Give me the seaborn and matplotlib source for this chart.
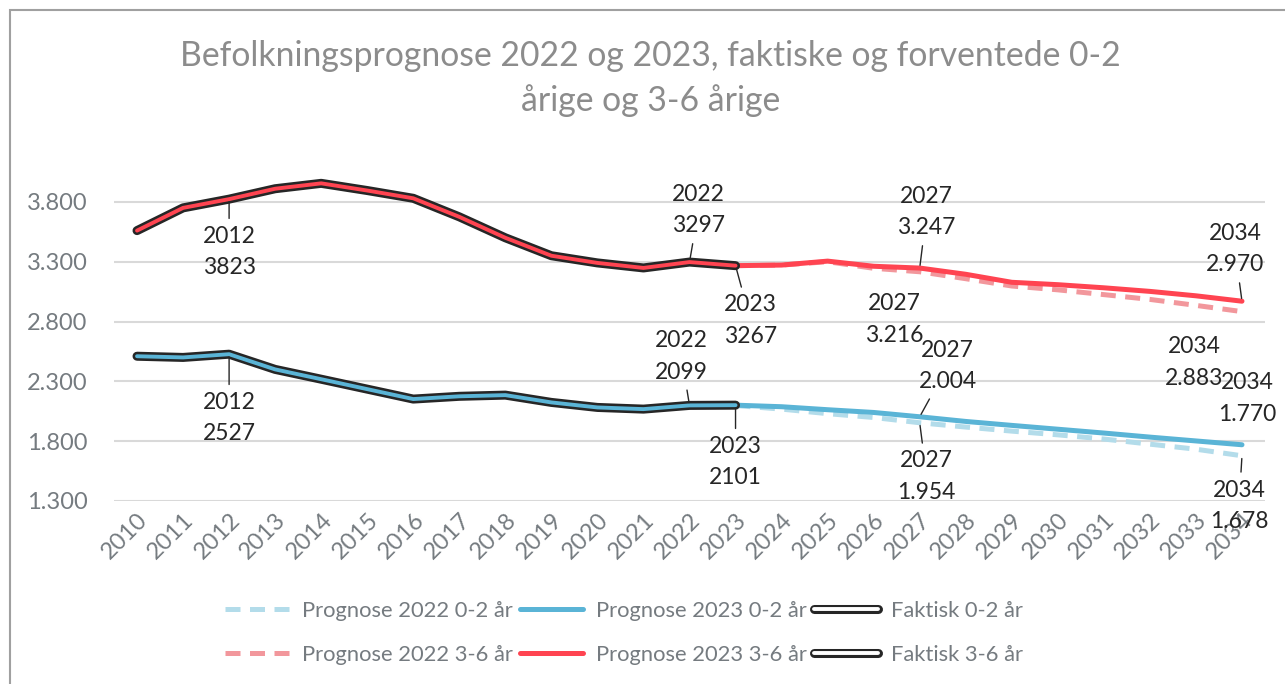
import matplotlib
matplotlib.use("Agg")
import matplotlib.pyplot as plt
import matplotlib.patheffects as pe
from matplotlib.lines import Line2D
from matplotlib.patches import Rectangle
import seaborn as sns

# Data
years_hist = list(range(2010, 2024))
faktisk_36 = [3560, 3750, 3823, 3910, 3955, 3895, 3830, 3675, 3500, 3350, 3290, 3248, 3297, 3267]
faktisk_02 = [2510, 2500, 2527, 2400, 2318, 2235, 2152, 2175, 2185, 2124, 2082, 2068, 2099, 2101]

years_prog = list(range(2023, 2035))
prog23_36 = [3267, 3272, 3305, 3262, 3247, 3195, 3128, 3108, 3082, 3052, 3015, 2970]
prog22_36 = [3267, 3272, 3300, 3245, 3216, 3158, 3097, 3065, 3025, 2985, 2935, 2883]
prog23_02 = [2101, 2088, 2063, 2040, 2004, 1965, 1932, 1900, 1868, 1834, 1802, 1770]
prog22_02 = [2098, 2068, 2030, 1998, 1954, 1918, 1884, 1853, 1818, 1775, 1733, 1678]

y_ticks = [1300, 1800, 2300, 2800, 3300, 3800]

# colours
red = "#ff4451"
red_light = "#f2979c"
blue = "#5ab4d6"
blue_light = "#b3dcea"
label_col = "#262626"
axis_col = "#757b80"

sns.set_theme(style="white")
plt.rcParams["font.family"] = ["Lato", "DejaVu Sans"]

fig = plt.figure(figsize=(12.85, 6.84), dpi=100)
ax = fig.add_axes([114 / 1285, 1 - 501 / 684, (1265 - 114) / 1285, 335 / 684])

# frame around the whole chart
fig.patches.append(Rectangle((10 / 1285, -0.02), 1.2, 1 - 10 / 684 + 0.02, transform=fig.transFigure,
                             fill=False, edgecolor="#a0a0a0", linewidth=1.5))

dash = (0, (3, 1.9))

# prognoses (dashed first so the solid lines lie on top)
sns.lineplot(x=years_prog, y=prog22_36, ax=ax, color=red_light, linewidth=3.6,
             linestyle=dash, zorder=2)
sns.lineplot(x=years_prog, y=prog22_02, ax=ax, color=blue_light, linewidth=3.6,
             linestyle=dash, zorder=2)
sns.lineplot(x=years_prog, y=prog23_36, ax=ax, color=red, linewidth=3.6, zorder=3,
             solid_capstyle="round")
sns.lineplot(x=years_prog, y=prog23_02, ax=ax, color=blue, linewidth=3.6, zorder=3,
             solid_capstyle="round")

# actual figures: black outline with coloured centre
outline = [pe.Stroke(linewidth=6.5, foreground="#262626", capstyle="round", joinstyle="round"), pe.Normal()]
for vals, col in [(faktisk_36, red), (faktisk_02, blue)]:
    line = sns.lineplot(x=years_hist, y=vals, ax=ax, color=col, linewidth=2.8, zorder=4).lines[-1]
    line.set_path_effects(outline)
    line.set_solid_capstyle("round")

# data labels: (year, value, dotted format, label offset px, leader line)
def fmt(v, dot):
    return f"{v // 1000}.{v % 1000:03d}" if dot else str(v)

labels = [
    (2012, faktisk_36[2], False, (0, -53), True),
    (2012, faktisk_02[2], False, (0, -64), True),
    (2022, faktisk_36[12], False, (9, 52), True),
    (2023, faktisk_36[13], False, (15, -55), True),
    (2022, faktisk_02[12], False, (-8, 49), True),
    (2023, faktisk_02[13], False, (0, -57), True),
    (2027, prog23_36[4], True, (7, 56), True),
    (2027, prog22_36[4], True, (-25, -48), False),
    (2027, prog23_02[4], True, (28, 51), True),
    (2027, prog22_02[4], True, (7, -54), True),
    (2034, prog23_36[11], True, (-7, 52), True),
    (2034, prog22_36[11], True, (-48, -51), False),
    (2034, prog23_02[11], True, (5, 46), False),
    (2034, prog22_02[11], True, (-3, -50), True),
]
for yr, val, dot, off, leader in labels:
    ax.annotate(f"{yr}\n{fmt(val, dot)}", xy=(yr, val), xytext=off, textcoords="offset pixels",
                ha="center", va="center", fontsize=16.5, color=label_col, linespacing=1.62,
                arrowprops=dict(arrowstyle="-", color="#262626", lw=1, shrinkA=3, shrinkB=2) if leader else None,
                zorder=6)

ax.set_xlim(2009.5, 2034.5)
ax.set_ylim(1300, 4100)
ax.set_yticks(y_ticks)
ax.set_yticklabels([fmt(v, True) for v in y_ticks])
ax.set_xticks(list(range(2010, 2035)))
ax.set_xticklabels([str(y) for y in range(2010, 2035)], rotation=45, ha="right", rotation_mode="anchor")
ax.tick_params(axis="both", colors=axis_col, labelsize=17, length=0)
ax.tick_params(axis="y", pad=19)
ax.tick_params(axis="x", pad=6)
ax.yaxis.grid(True, color="#d9d9d9", linewidth=1.5)
ax.xaxis.grid(False)
for s in ax.spines.values():
    s.set_visible(False)
ax.set_xlabel("")
ax.set_ylabel("")

fig.text(0.506, 1 - 56 / 684, "Befolkningsprognose 2022 og 2023, faktiske og forventede 0-2",
         ha="center", va="center", fontsize=24.3, color="#8c8c8c")
fig.text(0.506, 1 - 101 / 684, "årige og 3-6 årige", ha="center", va="center", fontsize=24.3, color="#8c8c8c")

# legend
white_core = [pe.Stroke(linewidth=6.5, foreground="#262626"), pe.Normal()]
handles = [
    Line2D([], [], color=blue_light, lw=3.6, linestyle=dash),
    Line2D([], [], color=red_light, lw=3.6, linestyle=dash),
    Line2D([], [], color=blue, lw=3.6),
    Line2D([], [], color=red, lw=3.6),
    Line2D([], [], color="white", lw=2.8, path_effects=white_core),
    Line2D([], [], color="white", lw=2.8, path_effects=white_core),
]
names = ["Prognose 2022 0-2 år", "Prognose 2022 3-6 år", "Prognose 2023 0-2 år",
         "Prognose 2023 3-6 år", "Faktisk 0-2 år", "Faktisk 3-6 år"]
leg = fig.legend(handles, names, ncol=3, loc="center", bbox_to_anchor=(624 / 1285, 1 - 633 / 684),
                 frameon=False, fontsize=15.8, handlelength=2.9, handletextpad=0.6,
                 columnspacing=0.3, labelspacing=1.1)
for t in leg.get_texts():
    t.set_color(axis_col)

fig.savefig("out.png", dpi=100)
